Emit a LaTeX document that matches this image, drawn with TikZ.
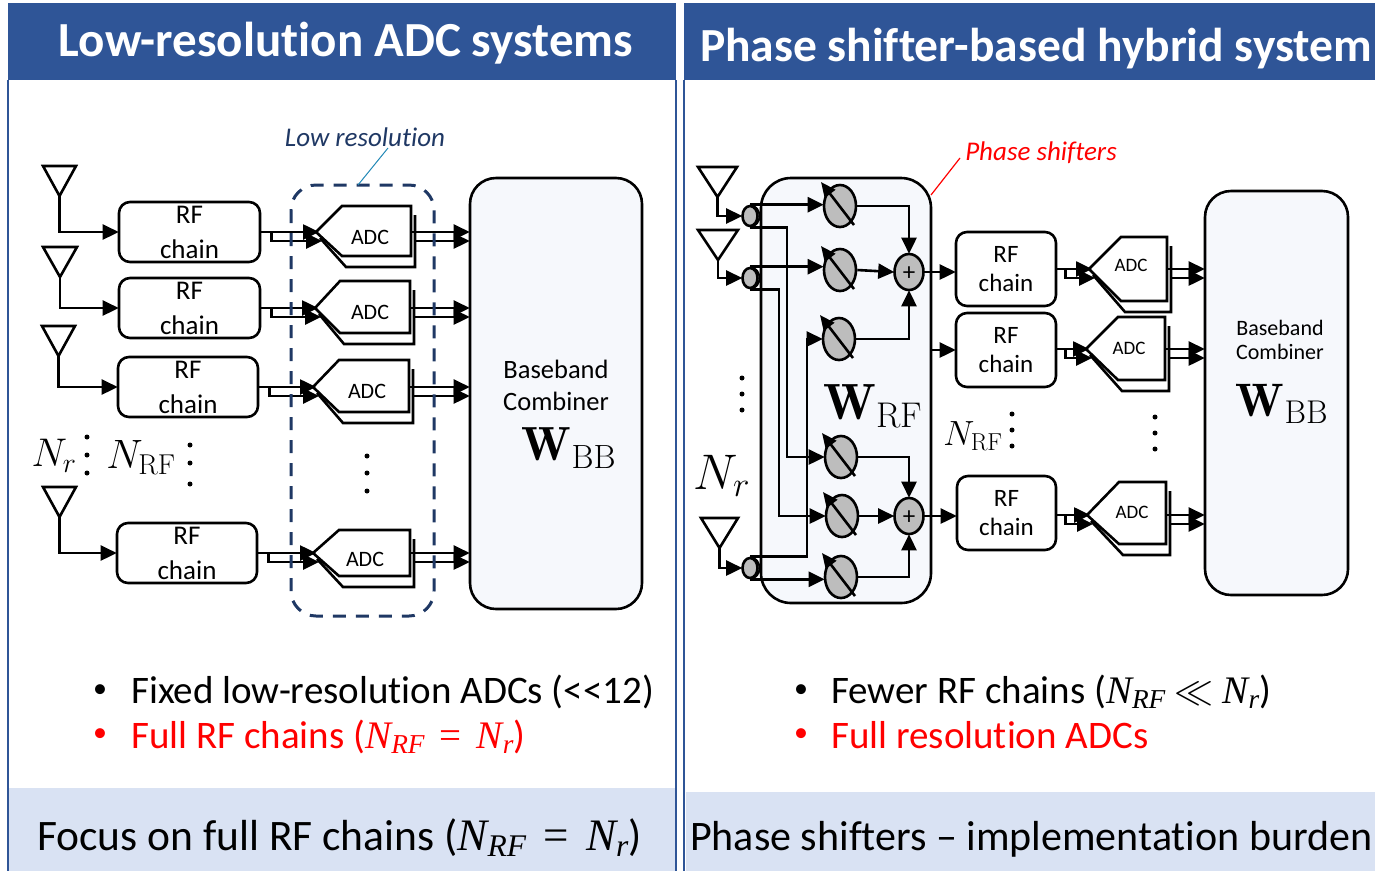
\documentclass[tikz,border=0pt]{standalone}
\usepackage{fix-cm}
\usepackage{fontspec}
\usepackage{amsmath}
\newfontfamily\gill[Ligatures=NoCommon]{Carlito}
\newfontfamily\cam{Liberation Serif}
\usetikzlibrary{arrows.meta,shapes.geometric,calc}
\definecolor{hdr}{HTML}{2F5597}
\definecolor{foot}{HTML}{D9E2F3}
\definecolor{navy}{HTML}{1F3864}
\definecolor{panel}{HTML}{F6F8FC}
\definecolor{gr}{HTML}{BDBDBD}
\newcommand{\fs}[1]{\fontsize{#1}{#1}\selectfont}
\newcommand{\nsym}[1]{{\cam\itshape N\textsubscript{#1}}}
\newcommand{\eqsym}{{\cam\kern.38em=\kern.38em}}
\tikzset{
  x=1pt,y=-1pt,
  wire/.style={line width=2.6pt,black},
  arr/.style={wire,-{Triangle[length=16pt,width=15pt]},shorten >=-1pt},
  rfL/.style={draw,line width=2.6pt,rounded corners=11pt,align=center,inner sep=0pt,font=\gill\fontsize{27}{35}\selectfont},
  rfR/.style={draw,line width=2.6pt,rounded corners=11pt,align=center,inner sep=0pt,font=\gill\fontsize{25}{29}\selectfont},
  bigbox/.style={draw,line width=2.6pt,fill=panel,rounded corners=26pt,inner sep=0pt},
  lbl/.style={font=\gill\fs{26.5},inner sep=0pt,align=center},
  lblR/.style={font=\gill\fs{22},inner sep=0pt,align=center},
  bodytxt/.style={font=\gill\fs{39},anchor=base west,inner sep=0pt},
  hdrtxt/.style={font=\gill\bfseries\fs{47.5},text=white,inner sep=0pt},
  foottxt/.style={font=\gill\fs{42},anchor=base west,inner sep=0pt},
  ps/.style={draw,line width=2.6pt,fill=gr,ellipse,minimum width=32pt,minimum height=42pt,inner sep=0pt},
  adder/.style={draw,line width=2.6pt,fill=gr,ellipse,minimum width=29pt,minimum height=36pt,inner sep=0pt,font=\gill\fs{25}},
  splitf/.style={draw,line width=2.6pt,fill=gr,ellipse,minimum width=15pt,minimum height=20pt,inner sep=0pt},
  splitb/.style={draw,line width=1.8pt,fill=white,ellipse,minimum width=15pt,minimum height=20pt,inner sep=0pt},
  dotn/.style={circle,fill=black,minimum size=5pt,inner sep=0pt},
  bul/.style={font=\gill\fs{28},inner sep=0pt},
}
\newcommand{\adcsize}{19}
% name, apex x, apex y, left x, top y, right x, bottom y, text x, text y
\newcommand{\adcshape}[9]{%
  \draw[line width=2.6pt,line join=miter,fill=white] (#2+4,#3+6) -- (#4+4,#7+11) -- (#6+4,#7+11) -- (#6+4,#5+9);
  \draw[line width=2.6pt,line join=miter,fill=white] (#2,#3) -- (#4,#5) -- (#6,#5) -- (#6,#7) -- (#4,#7) -- cycle;
  \node[font=\gill\fs{\adcsize},inner sep=0pt] (#1) at (#8,#9) {ADC};
  \coordinate (#1-i1) at (#2+2,#3);
  \coordinate (#1-i2) at (#2+5,#3+9);
  \coordinate (#1-o1) at (#6,#3);
  \coordinate (#1-o2) at (#6+4,#3+9);
}
% name, left x, top y, right x, apex y
\newcommand{\antshape}[5]{%
  \draw[line width=2.6pt,line join=miter] (#2,#3) -- (#4,#3) -- ({(#2+#4)/2},#5) -- cycle;
  \coordinate (#1) at ({(#2+#4)/2},#5);
}
% name, x, y
\newcommand{\psshape}[3]{%
  \node[ps] (#1) at (#2,#3) {};
  \draw[line width=2.6pt,-{Triangle[length=15pt,width=13pt]}] (#2+14,#3+19) -- (#2-19,#3-24);
}
\begin{document}
\begin{tikzpicture}
\useasboundingbox (0,0) rectangle (1375,871);
% frames
\fill[foot] (8,788) rectangle (676,871);
\fill[foot] (686,792) rectangle (1375,871);
\draw[hdr,line width=2pt] (8,80) -- (8,871);
\draw[hdr,line width=2pt] (676,80) -- (676,871);
\draw[hdr,line width=2pt] (684,80) -- (684,871);
\fill[hdr] (8,3) rectangle (676,80);
\fill[hdr] (684,3) rectangle (1375,80);
\node[hdrtxt,font=\gill\bfseries\fs{49}] (h1) at (346,43.5) {Low-resolution ADC systems};
\node[hdrtxt] (h2) at (1036,48.5) {Phase shifter-based hybrid system};

%%% LEFT PANEL
\node[bigbox,minimum width=172pt,minimum height=431pt] (bbL) at (556,393.5) {};
\node[lbl] (bbLa) at (556,369) {Baseband};
\node[lbl] (bbLb) at (556,401) {Combiner};
\node[inner sep=0pt,font=\fs{48}] (bbLw) at (569,448) {$\mathbf{W}_{\mathrm{BB}}$};

\node[rfL,minimum width=141pt,minimum height=60pt] (rf1) at (189.5,232) {RF\\chain};
\node[rfL,minimum width=141pt,minimum height=60pt] (rf2) at (189.5,308) {RF\\chain};
\node[rfL,minimum width=140pt,minimum height=60pt] (rf3) at (188,387) {RF\\chain};
\node[rfL,minimum width=140pt,minimum height=60pt] (rf4) at (187,553) {RF\\chain};

\antshape{an1}{43}{166}{76}{196}
\antshape{an2}{43}{247}{77}{277}
\antshape{an3}{42}{326}{75}{356}
\antshape{an4}{43}{487}{76}{517}
\draw[arr] (an1) |- (rf1.west);
\draw[arr] (an2) |- (rf2.west);
\draw[arr] (an3) |- (rf3.west);
\draw[arr] (an4) |- (rf4.west);

\renewcommand{\adcsize}{22}
\adcshape{a1}{316}{232}{342}{206}{411}{256}{370}{237}
\adcshape{a2}{315}{308}{340}{281}{410}{333}{370}{312}
\adcshape{a3}{313}{387}{339}{360}{409}{412}{367}{391}
\adcshape{a4}{313}{553}{339}{530}{410}{576}{365}{559}
\foreach \n/\r in {a1/rf1,a2/rf2,a3/rf3,a4/rf4}{
  \draw[arr] (\r.east |- \n-i1) -- (\n-i1);
  \draw[arr] ($(\r.east |- \n-i1)+(10,0)$) |- (\n-i2);
  \draw[arr] (\n-o1) -- (\n-o1 -| bbL.west);
  \draw[arr] (\n-o2) -- (\n-o2 -| bbL.west);
}
\draw[navy,line width=3pt,dash pattern=on 13pt off 10pt,rounded corners=25pt] (291,185) rectangle (434,616);
\coordinate (boxtop) at (358,185);
\node[font=\gill\itshape\fs{27},text=navy,inner sep=0pt] (lowres) at (365,137.5) {Low resolution};
\draw[hdr!70!cyan,line width=1pt] (388,148) -- (boxtop);

\node[inner sep=0pt,font=\fs{40}] (nr1) at (54,456) {$N_r$};
\node[inner sep=0pt,font=\fs{41}] (nrf1) at (141,458) {$N_{\mathrm{RF}}$};
\foreach \i/\x/\y in {a/87/437,b/87/455,c/87/473,d/190/445,e/190/463,f/190/484,g/367/456,h/367/473,j/367/491}
  \node[dotn] (dl\i) at (\x,\y) {};

\node[bul] (b1) at (100,691) {•};
\node[bodytxt] (t1) at (131,703) {Fixed low-resolution ADCs (<<12)};
\node[bul,text=red] (b2) at (100,735) {•};
\node[bodytxt,text=red] (t2) at (131,748) {Full RF chains (\nsym{RF}\eqsym\nsym{r})};
\node[foottxt,font=\gill\fs{43.5}] (f1) at (37,850) {Focus on full RF chains ({\fs{45}\nsym{RF}\eqsym\nsym{r}})};

%%% RIGHT PANEL
\node[bigbox,rounded corners=30pt,minimum width=170pt,minimum height=425pt] (wrf) at (846,390.5) {};
\node[inner sep=0pt,font=\fs{51}] (wrfl) at (873,406) {$\mathbf{W}_{\mathrm{RF}}$};
\node[bigbox,minimum width=143pt,minimum height=404pt] (bbR) at (1276.5,393) {};
\node[lblR] (bbRa) at (1280,328) {Baseband};
\node[lblR] (bbRb) at (1280,352) {Combiner};
\node[inner sep=0pt,font=\fs{47}] (bbRw) at (1282,404) {$\mathbf{W}_{\mathrm{BB}}$};

\antshape{pa1}{698}{167}{737}{197}
\antshape{pa2}{698}{230}{738}{260}
\antshape{pa3}{701}{518}{738}{548}

\foreach \n/\y in {s1/216,s2/278,s3/568}{
  \node[splitb] (\n b) at (752,\y) {};
  \node[splitf] (\n) at (750,\y) {};
}
\draw[arr] (pa1) |- (s1.west);
\draw[arr] (pa2) |- (s2.west);
\draw[arr] (pa3) |- (s3.west);

\psshape{p1}{840}{206}
\psshape{p2}{840}{270}
\psshape{p3}{839}{339}
\psshape{p4}{841}{457}
\psshape{p5}{842}{516}
\psshape{p6}{841}{577}
\node[adder] (add1) at (909,272) {\smash{\raisebox{-8pt}{+}}};
\node[adder] (add2) at (909,516) {\smash{\raisebox{-8pt}{+}}};

\coordinate (v1) at (787,0);
\coordinate (v2) at (779,0);
\coordinate (v3) at (807,0);
\draw[arr] (s1.north) -- (s1.north -| p1.west);
\draw[arr] (s1.south) -- (v1 |- s1.south) -- (v1 |- p4.west) -- (p4.west);
\draw[arr] (s2.north) -- (s2.north -| p2.west);
\draw[arr] (s2.south) -- (v2 |- s2.south) -- (v2 |- p5.west) -- (p5.west);
\draw[arr] (s3.north) -- (v3 |- s3.north) -- (v3 |- p3.west) -- (p3.west);
\draw[arr] (s3.south) -- (s3.south -| p6.west);

\draw[arr] (p1.east) -| (add1.north);
\draw[arr] (p2.east) -- (add1.west);
\draw[arr] (p3.east) -| (add1.south);
\draw[arr] (p4.east) -| (add2.north);
\draw[arr] (p5.east) -- (add2.west);
\draw[arr] (p6.east) -| (add2.south);

\node[rfR,minimum width=100pt,minimum height=74pt] (rr1) at (1006,269) {RF\\chain};
\node[rfR,minimum width=100pt,minimum height=74pt] (rr2) at (1006,350) {RF\\chain};
\node[rfR,minimum width=99pt,minimum height=74pt] (rr3) at (1006.5,513) {RF\\chain};
\draw[arr] (add1.east) -- (add1.east -| rr1.west);
\draw[arr] (wrf.east |- rr2.west) -- (rr2.west);
\draw[arr] (add2.east) -- (add2.east -| rr3.west);

\renewcommand{\adcsize}{19}
\adcshape{b1x}{1089}{269}{1121}{237}{1167}{301}{1131}{265}
\adcshape{b2x}{1086}{349}{1118}{317}{1165}{380}{1129}{348}
\adcshape{b3x}{1087}{515}{1119}{482}{1166}{544}{1132}{512}
\foreach \n/\r in {b1x/rr1,b2x/rr2,b3x/rr3}{
  \draw[arr] (\r.east |- \n-i1) -- (\n-i1);
  \draw[arr] ($(\r.east |- \n-i1)+(8,0)$) |- (\n-i2);
  \draw[arr] (\n-o1) -- (\n-o1 -| bbR.west);
  \draw[arr] (\n-o2) -- (\n-o2 -| bbR.west);
}

\node[font=\gill\itshape\fs{27},text=red,inner sep=0pt] (phs) at (1041,152.5) {Phase shifters};
\coordinate (wrfc) at (931,195);
\draw[red,line width=1.2pt] (960,158) -- (wrfc);

\node[inner sep=0pt,font=\fs{50}] (nr2) at (722,476) {$N_r$};
\node[inner sep=0pt,font=\fs{35}] (nrf2) at (973,436) {$N_{\mathrm{RF}}$};
\foreach \i/\x/\y in {a/742/378,b/742/394,c/742/410,d/1012/414,e/1012/430,f/1012/446,g/1155/417,h/1155/433,j/1155/449}
  \node[dotn] (dr\i) at (\x,\y) {};

\node[bul] (b3) at (801,691) {•};
\node[bodytxt] (t3) at (831,703) {Fewer RF chains (\nsym{RF} $\ll$ \nsym{r})};
\node[bul,text=red] (b4) at (801,735) {•};
\node[bodytxt,text=red] (t4) at (831,748) {Full resolution ADCs};
\node[foottxt] (f2) at (690,850) {Phase shifters – implementation burden};
\end{tikzpicture}
\end{document}
